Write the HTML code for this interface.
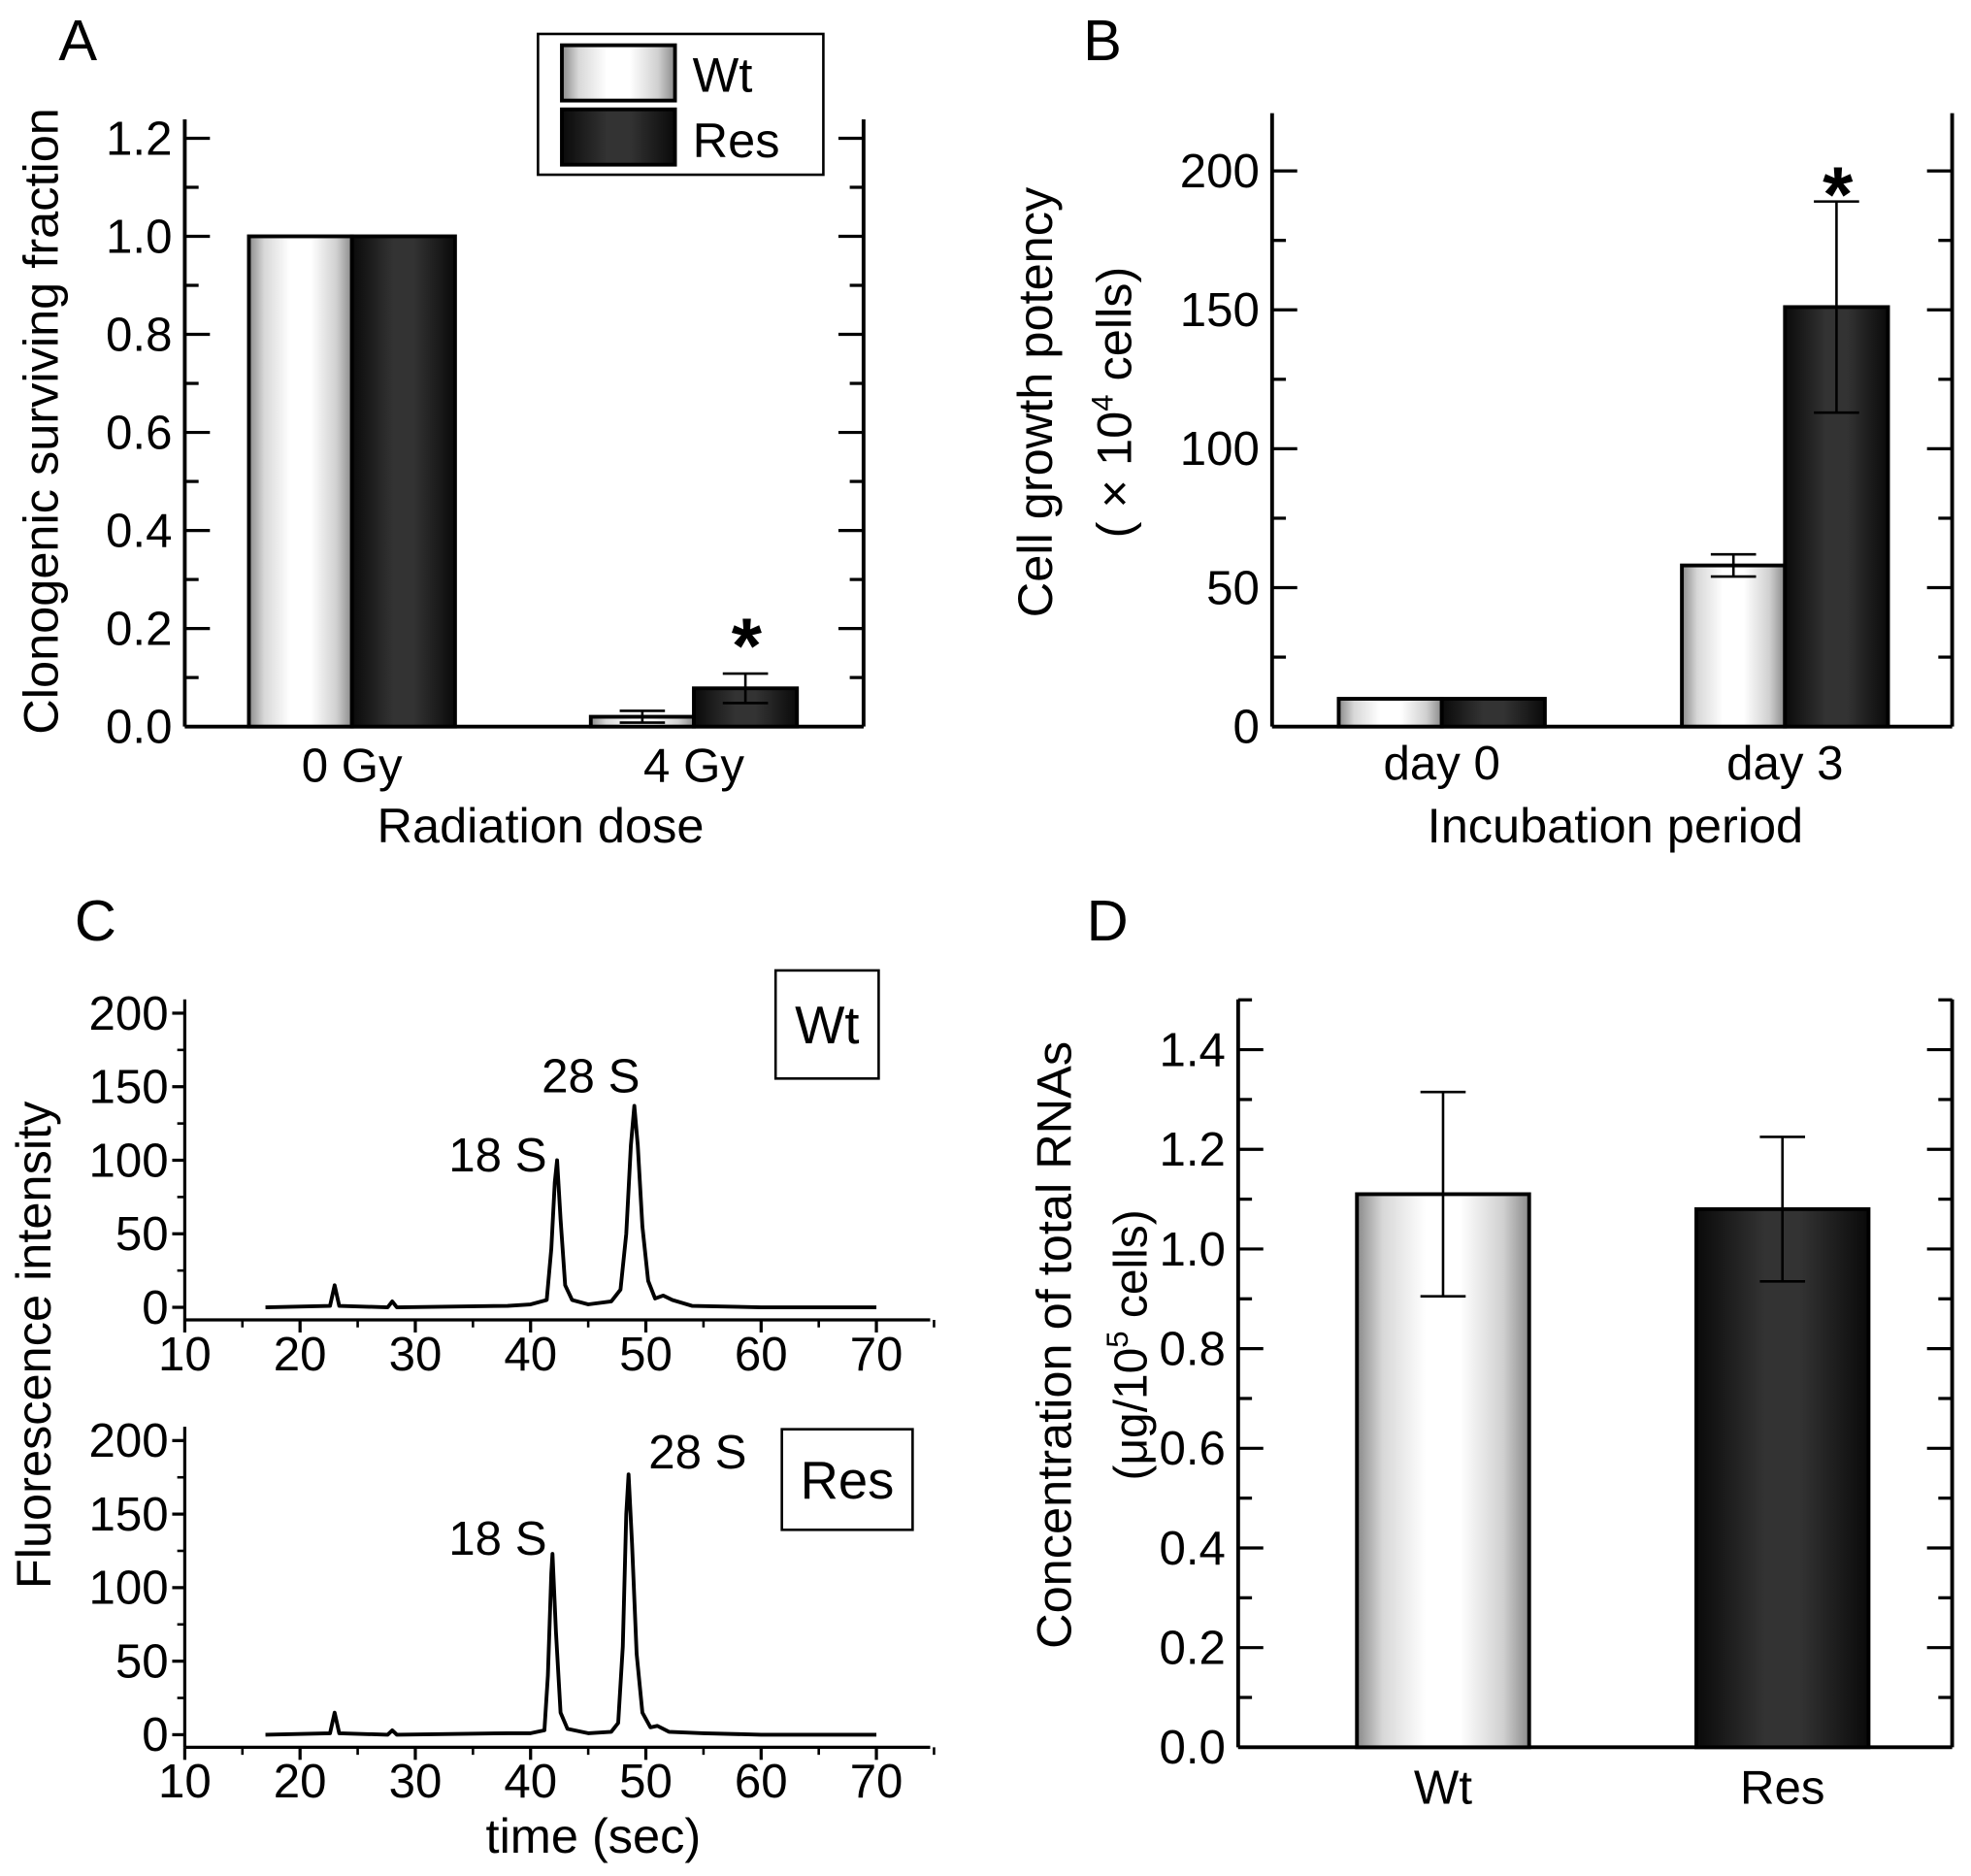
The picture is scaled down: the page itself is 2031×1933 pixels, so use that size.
<!DOCTYPE html>
<html><head><meta charset="utf-8"><style>
html,body{margin:0;padding:0;background:#fff}
svg{display:block}
text{font-family:"Liberation Sans",Arial,sans-serif;fill:#000}
</style></head><body>
<svg id="fig" width="2031" height="1933" viewBox="0 0 1568 1492.4" preserveAspectRatio="none" xmlns="http://www.w3.org/2000/svg">
<defs>
<linearGradient id="gW" x1="0" x2="1" y1="0" y2="0">
<stop offset="0" stop-color="#8a8a8a"/><stop offset="0.15" stop-color="#d8d8d8"/><stop offset="0.4" stop-color="#fff"/><stop offset="0.6" stop-color="#fff"/><stop offset="0.85" stop-color="#d0d0d0"/><stop offset="1" stop-color="#8a8a8a"/></linearGradient>
<linearGradient id="gR" x1="0" x2="1" y1="0" y2="0">
<stop offset="0" stop-color="#0a0a0a"/><stop offset="0.4" stop-color="#333"/><stop offset="0.6" stop-color="#333"/><stop offset="1" stop-color="#0a0a0a"/></linearGradient>
</defs>
</svg>
<script>
// Panel A data
const aCategories = ["0 Gy", "4 Gy"];
const aWt = [1.0, 0.02];
const aWtErr = [0, 0.012];
const aRes = [1.0, 0.078];
const aResErr = [0, 0.03];
const aTicks = ["0.0","0.2","0.4","0.6","0.8","1.0","1.2"];
// Panel B data
const bCategories = ["day 0", "day 3"];
const bWt = [10, 58];
const bWtErr = [0, 4];
const bRes = [10, 151];
const bResErr = [0, 38];
const bTicks = ["0","50","100","150","200"];
// Panel C data
const cWtTime = [17,22.6,23,23.4,27.6,28,28.4,38,40,41.4,41.8,42.1,42.3,42.6,43,43.6,45,47,47.8,48.3,48.7,49,49.3,49.7,50.2,50.8,51.5,52.3,54,60,70];
const cWtVal = [0,1,15,1,0,4,0,1,2,5,40,85,100,60,15,5,2,4,12,50,110,137,110,55,18,6,8,5,1,0,0];
const cResTime = [17,22.6,23,23.4,27.6,28,28.4,38,40,41.2,41.5,41.8,41.9,42.2,42.6,43.2,45,47,47.6,48,48.3,48.5,48.8,49.2,49.7,50.4,51,52,55,60,70];
const cResVal = [0,1,15,1,0,3,0,1,1,3,40,110,123,70,15,4,1,2,8,60,150,177,130,55,15,5,6,2,1,0,0];
const cYTicks = ["0","50","100","150","200"];
const cXTicks = ["10","20","30","40","50","60","70"];
// Panel D data
const dCategories = ["Wt", "Res"];
const dVal = [1.11, 1.08];
const dErr = [0.205, 0.145];
const dTicks = ["0.0","0.2","0.4","0.6","0.8","1.0","1.2","1.4"];

const svg = document.getElementById('fig');
const NS = 'http://www.w3.org/2000/svg';
function mk(tag, attrs, txt){const e=document.createElementNS(NS,tag);for(const k in attrs)e.setAttribute(k,attrs[k]);if(txt!==undefined)e.textContent=txt;svg.appendChild(e);return e;}
let el;
function line(x1,y1,x2,y2,w,name){el=mk('line',{x1,y1,x2,y2,stroke:'#000','stroke-width':w||2.5});


return el;}
function txt(x,y,s,size,anchor,name,extra){el=mk('text',Object.assign({x,y,'font-size':size,'text-anchor':anchor||'middle'},extra||{}),s);


return el;}
function bar(x,w,yTop,yBase,fill,name){el=mk('rect',{x,y:yTop,width:w,height:yBase-yTop,fill:fill,stroke:'#000','stroke-width':3});


return el;}
function errbar(cx,y1,y2,name){line(cx,y1,cx,y2,2,name);line(cx-18,y1,cx+18,y1,2,name+'-cap');line(cx-18,y2,cx+18,y2,2,name+'-cap');}

const TS=38, AT=39;
function boxAxes(L,R,T,B,yScale,ticks,step,minorStep,prefix){
  line(L,T,L,B,3,prefix+'-y-axis');line(R,T,R,B,3,prefix+'-right-axis');line(L,B,R,B,3,prefix+'-x-axis');
  const max=parseFloat(ticks[ticks.length-1]);
  for(let v=0;v<=max+minorStep+1e-9;v+=minorStep){
    const y=yScale(v); if(y<T) break;
    const major=Math.abs(v/step-Math.round(v/step))<1e-6; const len=major?20:11;
    line(L,y,L+len,y,2.5,prefix+'-y-tick');line(R,y,R-len,y,2.5,prefix+'-right-tick');
  }
  ticks.forEach(t=>txt(L-10,yScale(parseFloat(t))+13,t,TS,'end',prefix+'-y-tick-label'));
}

// ---- Panel A
const aY=v=>578-v*390; const aX=[280,552]; const bw=82;
txt(62,48,'A',46,'middle','panel-a-label');
boxAxes(147,687,95,578,aY,aTicks,0.2,0.1,'panel-a');
aCategories.forEach((c,i)=>{
  bar(aX[i]-bw,bw,aY(aWt[i]),578,'url(#gW)','panel-a-bar-wt-'+i);
  bar(aX[i],bw,aY(aRes[i]),578,'url(#gR)','panel-a-bar-res-'+i);
  if(aWtErr[i]>0) errbar(aX[i]-bw/2,aY(aWt[i]+aWtErr[i]),aY(aWt[i]-aWtErr[i]),'panel-a-err-wt-'+i);
  if(aResErr[i]>0) errbar(aX[i]+bw/2,aY(aRes[i]+aResErr[i]),aY(aRes[i]-aResErr[i]),'panel-a-err-res-'+i);
  txt(aX[i],622,c,TS,'middle','panel-a-x-tick-label');
});
txt(594,535,'*',62,'middle','panel-a-significance-star',{'font-weight':'bold'});
txt(430,670,'Radiation dose',AT,'middle','panel-a-x-axis-title');
txt(46,335,'Clonogenic surviving fraction',AT,'middle','panel-a-y-axis-title',{transform:'rotate(-90 46 335)'});
el=mk('rect',{x:428,y:27,width:227,height:112,fill:'#fff',stroke:'#000','stroke-width':2});


bar(447,90,36,80,'url(#gW)','legend-swatch-wt');
bar(447,90,87,131,'url(#gR)','legend-swatch-res');
txt(551,73,'Wt',39,'start','legend-label-wt');
txt(551,125,'Res',39,'start','legend-label-res');

// ---- Panel B
const bY=v=>578-v*2.21; const bX=[1147,1420];
txt(877,48,'B',46,'middle','panel-b-label');
boxAxes(1012,1553,90,578,bY,bTicks,50,25,'panel-b');
bCategories.forEach((c,i)=>{
  bar(bX[i]-bw,bw,bY(bWt[i]),578,'url(#gW)','panel-b-bar-wt-'+i);
  bar(bX[i],bw,bY(bRes[i]),578,'url(#gR)','panel-b-bar-res-'+i);
  if(bWtErr[i]>0) errbar(bX[i]-bw/2,bY(bWt[i]+bWtErr[i]),bY(bWt[i]-bWtErr[i]),'panel-b-err-wt-'+i);
  if(bResErr[i]>0) errbar(bX[i]+bw/2,bY(bRes[i]+bResErr[i]),bY(bRes[i]-bResErr[i]),'panel-b-err-res-'+i);
  txt(bX[i],620,c,TS,'middle','panel-b-x-tick-label');
});
txt(1462,176,'*',62,'middle','panel-b-significance-star',{'font-weight':'bold'});
txt(1285,670,'Incubation period',AT,'middle','panel-b-x-axis-title');
txt(837,320,'Cell growth potency',AT,'middle','panel-b-y-axis-title',{transform:'rotate(-90 837 320)'});
el=txt(900,320,'( × 10',AT,'middle','panel-b-y-axis-units',{transform:'rotate(-90 900 320)'});
const ts=document.createElementNS(NS,'tspan');ts.setAttribute('font-size','24');ts.setAttribute('dy','-15');ts.textContent='4';el.appendChild(ts);
const ts2=document.createElementNS(NS,'tspan');ts2.setAttribute('dy','15');ts2.textContent=' cells)';el.appendChild(ts2);

// ---- Panel C
txt(76,748,'C',46,'middle','panel-c-label');
function trace(times,vals,y0,prefix,label,lblX,lblY,box){
  const xS=t=>147+(t-10)*9.17; const yS=v=>y0-v*1.17;
  line(147,y0-245,147,y0+10,2.5,prefix+'-y-axis');line(147,y0+10,740,y0+10,2.5,prefix+'-x-axis');
  cYTicks.forEach(t=>{const y=yS(+t);line(137,y,147,y,2.5,prefix+'-y-tick');txt(134,y+13,t,TS,'end',prefix+'-y-tick-label');});
  for(let v=25;v<=175;v+=50){line(141,yS(v),147,yS(v),2,prefix+'-y-minor-tick');}
  cXTicks.forEach(t=>{const x=xS(+t);line(x,y0+10,x,y0+20,2.5,prefix+'-x-tick');txt(x,y0+50,t,TS,'middle',prefix+'-x-tick-label');});
  for(let t=15;t<=75;t+=10){line(xS(t),y0+10,xS(t),y0+16,2,prefix+'-x-minor-tick');}
  el=mk('polyline',{points:times.map((t,i)=>xS(t)+','+yS(vals[i])).join(' '),fill:'none',stroke:'#000','stroke-width':3,'stroke-linejoin':'round'});
  
  
  el=mk('rect',{x:box[0],y:box[1],width:box[2],height:box[3],fill:'#fff',stroke:'#000','stroke-width':2});
  
  
  txt(box[0]+box[2]/2,box[1]+box[3]/2+15,label,42,'middle',prefix+'-label');
  txt(lblX[0],lblY[0],'18 S',TS,'middle',prefix+'-18s-label');
  txt(lblX[1],lblY[1],'28 S',TS,'middle',prefix+'-28s-label');
}
trace(cWtTime,cWtVal,1040,'panel-c-wt','Wt',[396,470],[932,869],[617,772,82,86]);
trace(cResTime,cResVal,1380,'panel-c-res','Res',[396,555],[1237,1168],[622,1137,104,80]);
txt(472,1474,'time (sec)',AT,'middle','panel-c-x-axis-title');
txt(40,1070,'Fluorescence intensity',AT,'middle','panel-c-y-axis-title',{transform:'rotate(-90 40 1070)'});

// ---- Panel D
const dY=v=>1390-v*396.4; const dX=[1148,1418]; const dw=137;
txt(881,748,'D',46,'middle','panel-d-label');
boxAxes(985,1553,795,1390,dY,dTicks,0.2,0.1,'panel-d');
dCategories.forEach((c,i)=>{
  bar(dX[i]-dw/2,dw,dY(dVal[i]),1390,i===0?'url(#gW)':'url(#gR)','panel-d-bar-'+c.toLowerCase());
  errbar(dX[i],dY(dVal[i]+dErr[i]),dY(dVal[i]-dErr[i]),'panel-d-err-'+c.toLowerCase());
  txt(dX[i],1435,c,TS,'middle','panel-d-x-tick-label');
});
txt(852,1070,'Concentration of total RNAs',AT,'middle','panel-d-y-axis-title',{transform:'rotate(-90 852 1070)'});
el=txt(912,1070,'(μg/10',37,'middle','panel-d-y-axis-units',{transform:'rotate(-90 912 1070)'});
const t3=document.createElementNS(NS,'tspan');t3.setAttribute('font-size','24');t3.setAttribute('dy','-15');t3.textContent='5';el.appendChild(t3);
const t4=document.createElementNS(NS,'tspan');t4.setAttribute('dy','15');t4.textContent=' cells)';el.appendChild(t4);
</script>
</body></html>
